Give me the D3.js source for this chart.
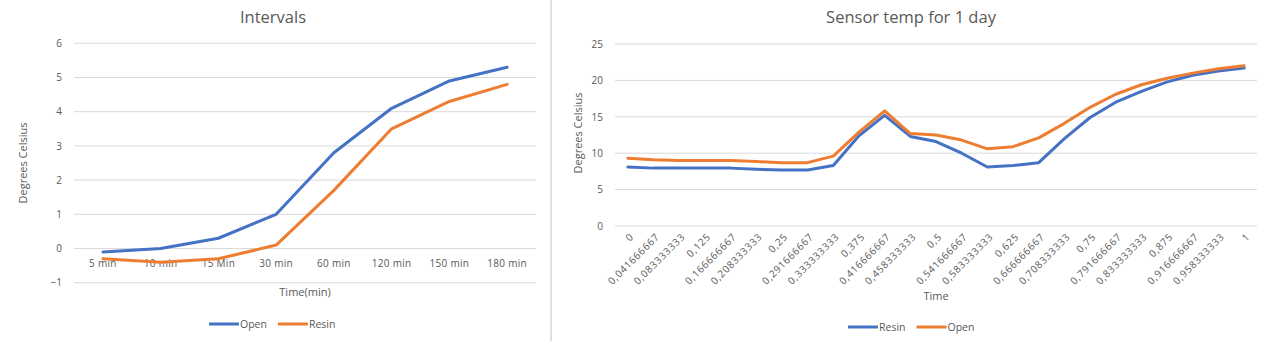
<!DOCTYPE html>
<html><head><meta charset="utf-8">
<script src="https://cdn.jsdelivr.net/npm/d3@7"></script>
<style>
body{margin:0;background:#fff;}
text{font-family:"Open Sans","Noto Sans",sans-serif;fill:#595959;}
</style></head>
<body><svg id="c" width="1272" height="341"></svg>
<script>
// Left chart data
const intervalCats = ["5 min","10 min","15 Min","30 min","60 min","120 min","150 min","180 min"];
const intervalOpen = [-0.1, 0.0, 0.3, 1.0, 2.8, 4.1, 4.9, 5.3];
const intervalResin = [-0.3, -0.4, -0.3, 0.1, 1.7, 3.5, 4.3, 4.8];
const intervalTicks = [-1,0,1,2,3,4,5,6];

// Right chart data
const dayCats = ["0","0,041666667","0,083333333","0,125","0,166666667","0,208333333","0,25","0,291666667","0,333333333","0,375","0,416666667","0,458333333","0,5","0,541666667","0,583333333","0,625","0,666666667","0,708333333","0,75","0,791666667","0,833333333","0,875","0,916666667","0,958333333","1"];
const dayResin = [8.1,7.95,7.95,7.95,7.95,7.8,7.7,7.7,8.3,12.4,15.2,12.3,11.6,10.0,8.1,8.3,8.7,12.0,14.9,17.0,18.5,19.8,20.7,21.3,21.7];
const dayOpen = [9.3,9.1,9.0,9.0,9.0,8.85,8.7,8.7,9.6,12.9,15.8,12.7,12.5,11.8,10.6,10.9,12.1,14.1,16.3,18.1,19.4,20.3,21.0,21.6,22.0];
const dayTicks = [0,5,10,15,20,25];

const BLUE="#4472C4", ORANGE="#ED7D31", GRID="#d9d9d9";
const svg=d3.select("#c");

// separator
svg.append("line").attr("x1",551).attr("x2",551).attr("y1",0).attr("y2",341).attr("stroke","#e0e0e0").attr("stroke-width",2);

function chart(o){
  const g=svg.append("g");
  const x=d3.scaleBand().domain(o.cats).range([o.x0,o.x1]);
  const y=d3.scaleLinear().domain(o.ydom).range([o.yb,o.yt]);
  // grid
  g.append("g").selectAll("line").data(o.ticks).join("line")
    .attr("x1",o.x0).attr("x2",o.x1).attr("y1",d=>y(d)).attr("y2",d=>y(d))
    .attr("stroke",GRID).attr("stroke-width",1);
  // y axis labels
  const ya=d3.axisLeft(y).tickValues(o.ticks).tickSize(0).tickPadding(o.ypad).tickFormat(d3.format("d"));
  const yg=g.append("g").attr("transform",`translate(${o.x0},0)`).call(ya);
  yg.select(".domain").remove();
  yg.selectAll("text").style("font-size","10px").attr("fill","#595959").style("font-family","'Open Sans',sans-serif");
  // x labels
  const xg=g.append("g");
  if(o.rotate){
    xg.selectAll("text").data(o.cats).join("text")
      .attr("transform",d=>`translate(${x(d)+x.bandwidth()/2+4},${y(0)+9}) rotate(-45)`)
      .attr("text-anchor","end").attr("dy","0.35em").style("font-size","10px").style("letter-spacing","0.7px").text(d=>d);
  } else {
    xg.selectAll("text").data(o.cats).join("text")
      .attr("x",d=>x(d)+x.bandwidth()/2).attr("y",y(0)+18)
      .attr("text-anchor","middle").style("font-size","10px").style("letter-spacing","0.3px").text(d=>d);
  }
  // lines
  const line=d3.line().x((d,i)=>x(o.cats[i])+x.bandwidth()/2).y(d=>y(d));
  o.series.forEach(s=>{
    g.append("path").datum(s.values).attr("d",line).attr("fill","none")
      .attr("stroke",s.color).attr("stroke-width",3).attr("stroke-linejoin","round").attr("stroke-linecap","round");
  });
  // title
  g.append("text").attr("x",o.cx).attr("y",o.titleY).attr("text-anchor","middle").style("font-size","16.5px").text(o.title);
  // axis titles
  g.append("text").attr("x",(o.x0+o.x1)/2).attr("y",o.xtY).attr("text-anchor","middle").style("font-size","11px").text(o.xtitle);
  g.append("text").attr("transform",`translate(${o.ytX},${o.ytY}) rotate(-90)`).attr("text-anchor","middle").attr("dy","0.35em").style("font-size","11px").text("Degrees Celsius");
  // legend
  let lx=o.legX;
  o.series.forEach(s=>{
    g.append("line").attr("x1",lx).attr("x2",lx+30).attr("y1",o.legY).attr("y2",o.legY).attr("stroke",s.color).attr("stroke-width",3);
    const t=g.append("text").attr("x",lx+31).attr("y",o.legY).attr("dy","0.35em").style("font-size","10.5px").text(s.name);
    lx+=31+t.node().getComputedTextLength()+11;
  });
}

chart({cats:intervalCats,ticks:intervalTicks,ydom:[-1,6],x0:74,x1:536,yb:282.7,yt:43.3,ypad:12,rotate:false,
  series:[{name:"Open",values:intervalOpen,color:BLUE},{name:"Resin",values:intervalResin,color:ORANGE}],
  title:"Intervals",cx:273,titleY:23,xtitle:"Time(min)",xtY:296,ytX:23,ytY:163,legX:209,legY:324});

chart({cats:dayCats,ticks:dayTicks,ydom:[0,25],x0:615,x1:1257,yb:226,yt:44,ypad:12,rotate:true,
  series:[{name:"Resin",values:dayResin,color:BLUE},{name:"Open",values:dayOpen,color:ORANGE}],
  title:"Sensor temp for 1 day",cx:911,titleY:23,xtitle:"Time",xtY:300,ytX:578,ytY:133,legX:848,legY:327});
</script></body></html>
